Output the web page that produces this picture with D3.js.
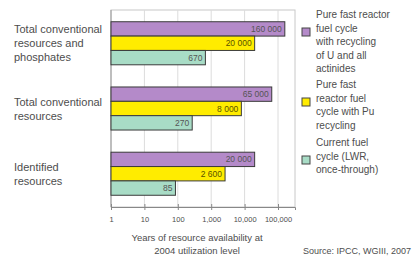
<!DOCTYPE html>
<html>
<head>
<meta charset="utf-8">
<script src="https://d3js.org/d3.v7.min.js"></script>
<style>
  body { margin: 0; background: #fff; font-family: "Liberation Sans", Arial, sans-serif; }
  svg text { fill: #4d4d4d; }
</style>
</head>
<body>
<svg width="414" height="257"></svg>
<script>
// data
var categories = ["Total conventional resources and phosphates", "Total conventional resources", "Identified resources"];
var categoryLines = [["Total conventional", "resources and", "phosphates"], ["Total conventional", "resources"], ["Identified", "resources"]];
var seriesNames = ["Pure fast reactor fuel cycle with recycling of U and all actinides", "Pure fast reactor fuel cycle with Pu recycling", "Current fuel cycle (LWR, once-through)"];
var legendLines = [["Pure fast reactor", "fuel cycle", "with recycling", "of U and all", "actinides"], ["Pure fast", "reactor fuel", "cycle with Pu", "recycling"], ["Current fuel", "cycle (LWR,", "once-through)"]];
var fastAll = [160000, 65000, 20000];
var fastPu = [20000, 8000, 2600];
var current = [670, 270, 85];
var valueLabels = [["160 000", "65 000", "20 000"], ["20 000", "8 000", "2 600"], ["670", "270", "85"]];
var tickValues = [1, 10, 100, 1000, 10000, 100000];
var tickLabels = ["1", "10", "100", "1,000", "10,000", "100,000"];
var colors = ["#b48ac9", "#ffec00", "#a8dcc6"];

var svg = d3.select("svg");
var pLeft = 111, pRight = 295, pTop = 10, pBottom = 207;

var x = d3.scaleLog().domain([1, Math.pow(10, 184 / 33.4)]).range([pLeft, pRight]);
var y0 = d3.scaleBand().domain(categories).range([pTop, pBottom]).paddingInner(0.34).paddingOuter(0.18);
var y1 = d3.scaleBand().domain(d3.range(3)).range([0, y0.bandwidth()]);

var series = [fastAll, fastPu, current];

// frame
svg.append("rect").attr("x", pLeft).attr("y", pTop).attr("width", pRight - pLeft).attr("height", pBottom - pTop)
  .attr("fill", "none").attr("stroke", "#c8c8c8").attr("stroke-width", 1);

// gridlines
svg.append("g").selectAll("line").data(tickValues.slice(1)).enter().append("line")
  .attr("x1", function(d) { return x(d); }).attr("x2", function(d) { return x(d); })
  .attr("y1", pTop).attr("y2", pBottom)
  .attr("stroke", "#dcdcdc");

// left line
svg.append("line").attr("x1", pLeft).attr("x2", pLeft).attr("y1", pTop).attr("y2", pBottom).attr("stroke", "#999");

// bars
categories.forEach(function(c, i) {
  series.forEach(function(s, j) {
    var yy = y0(c) + y1(j);
    svg.append("rect")
      .attr("x", pLeft).attr("y", yy)
      .attr("width", x(s[i]) - pLeft).attr("height", y1.bandwidth())
      .attr("fill", colors[j]).attr("stroke", "#3a3a3a").attr("stroke-width", 1);
    svg.append("text")
      .attr("x", x(s[i]) - 3).attr("y", yy + y1.bandwidth() / 2 + 3)
      .attr("text-anchor", "end").style("font-size", "8.5px")
      .style("fill", j == 1 ? "#5a5200" : "#555")
      .text(valueLabels[j][i]);
  });
  var lines = categoryLines[i];
  var cy = y0(c) + y0.bandwidth() / 2;
  lines.forEach(function(l, k) {
    svg.append("text").attr("x", 14)
      .attr("y", cy + (k - (lines.length - 1) / 2) * 14 + 4)
      .style("font-size", "11px").text(l);
  });
});

// x axis
var axis = svg.append("g").attr("transform", "translate(0," + pBottom + ")")
  .call(d3.axisBottom(x).tickValues(tickValues).tickSize(3).tickFormat(function(d, i) { return tickLabels[i]; }));
axis.select(".domain").attr("stroke", "#888");
axis.selectAll(".tick line").attr("stroke", "#888").attr("y1", -3);
axis.selectAll(".tick text").attr("y", 10).style("font-size", "7.5px").style("font-family", "Liberation Sans, Arial, sans-serif").attr("fill", "#555");

svg.append("text").attr("x", 197).attr("y", 241).attr("text-anchor", "middle").style("font-size", "9.5px").text("Years of resource availability at");
svg.append("text").attr("x", 197).attr("y", 254).attr("text-anchor", "middle").style("font-size", "9.5px").text("2004 utilization level");

svg.append("text").attr("x", 411).attr("y", 254).attr("text-anchor", "end").style("font-size", "9px").text("Source: IPCC, WGIII, 2007");

// legend
var legendTop = [18, 88, 146];
seriesNames.forEach(function(n, j) {
  svg.append("rect").attr("x", 302).attr("y", legendTop[j] + 10).attr("width", 8).attr("height", 8)
    .attr("fill", colors[j]).attr("stroke", "#444");
  legendLines[j].forEach(function(l, k) {
    svg.append("text").attr("x", 316).attr("y", legendTop[j] + k * 13.5)
      .style("font-size", "10px").text(l);
  });
});
</script>
</body>
</html>
